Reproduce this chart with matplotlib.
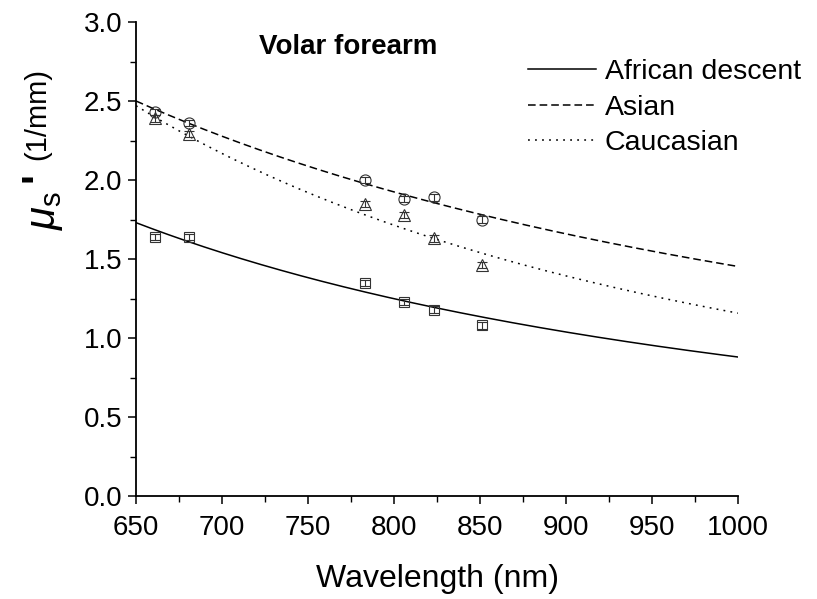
import numpy as np
import matplotlib
matplotlib.use("Agg")
import matplotlib.pyplot as plt
from matplotlib.ticker import MultipleLocator

plt.rcParams['font.family'] = ['Liberation Sans', 'DejaVu Sans']
plt.rcParams['mathtext.fontset'] = 'custom'
plt.rcParams['mathtext.rm'] = 'Liberation Sans'
plt.rcParams['mathtext.it'] = 'Liberation Sans:italic'

# measured wavelengths (nm)
wavelengths = [661, 681, 783, 806, 823, 851]

# reduced scattering coefficient (1/mm)
african = [1.64, 1.64, 1.35, 1.23, 1.18, 1.08]
asian = [2.43, 2.36, 2.00, 1.88, 1.89, 1.75]
caucasian = [2.39, 2.29, 1.85, 1.78, 1.63, 1.46]
err = [0.02, 0.02, 0.02, 0.02, 0.02, 0.02]

# power law fits: mu_s' = amp * (wl / 650) ** (-power)
fit_amp = {"African descent": 1.73, "Asian": 2.50, "Caucasian": 2.47}
fit_power = {"African descent": 1.57, "Asian": 1.26, "Caucasian": 1.76}

fig = plt.figure(figsize=(8.17, 5.99), dpi=100)
ax = fig.add_axes([136 / 817, 103 / 599, 602 / 817, 474 / 599])

wl = np.linspace(650, 1000, 300)
styles = {
    "African descent": dict(ls='-'),
    "Asian": dict(ls=(0, (5, 2.6))),
    "Caucasian": dict(ls=(0, (1.2, 3.4))),
}
for name in ["African descent", "Asian", "Caucasian"]:
    y = fit_amp[name] * (wl / 650) ** (-fit_power[name])
    ax.plot(wl, y, color='black', lw=1.1, label=name, **styles[name])

marker_kw = dict(ls='none', mfc='none', mec='#333333', mew=0.8,
                 ecolor='#333333', elinewidth=0.8, capsize=3.5,
                 capthick=0.8)
ax.errorbar(wavelengths, asian, yerr=err, marker='o', ms=8, **marker_kw)
ax.errorbar(wavelengths, caucasian, yerr=err, marker='^', ms=8.5, **marker_kw)
ax.errorbar(wavelengths, african, yerr=err, marker='s', ms=6.5, **marker_kw)

ax.set_xlim(650, 1000)
ax.set_ylim(0, 3.0)
ax.xaxis.set_major_locator(MultipleLocator(50))
ax.xaxis.set_minor_locator(MultipleLocator(25))
ax.yaxis.set_major_locator(MultipleLocator(0.5))
ax.yaxis.set_minor_locator(MultipleLocator(0.25))
ax.yaxis.set_major_formatter(plt.FormatStrFormatter('%.1f'))

for side in ['top', 'right']:
    ax.spines[side].set_visible(False)
for side in ['left', 'bottom']:
    ax.spines[side].set_linewidth(1.3)
ax.tick_params(which='major', direction='out', length=6, width=1.1,
               labelsize=20)
ax.tick_params(axis='x', which='major', pad=8)
ax.tick_params(axis='y', which='major', pad=4)
ax.tick_params(which='minor', direction='out', length=4, width=1.0)

ax.set_xlabel('Wavelength (nm)', fontsize=23, labelpad=16)

# y label built from pieces: big symbol, prime and smaller unit
fig.text(45 / 817, 1 - 230 / 599, r"$\mu_\mathrm{s}$", rotation=90,
         fontsize=30, ha='center', va='bottom')
fig.text(39 / 817, 1 - 182 / 599, "'", rotation=90, fontsize=30,
         fontweight='bold', ha='center', va='bottom')
fig.text(37 / 817, 1 - 160 / 599, "(1/mm)", rotation=90, fontsize=21,
         ha='center', va='bottom')

ax.text((259 - 136) / 602, (496 - 47) / 474, 'Volar forearm',
        transform=ax.transAxes, fontsize=20, fontweight='bold',
        ha='left', va='center')

ax.legend(loc='upper left', bbox_to_anchor=(528 / 817, 1 - 59 / 599),
          bbox_transform=fig.transFigure, frameon=False, fontsize=20.5,
          handlelength=2.4, handletextpad=0.3, labelspacing=0.34,
          borderpad=0, borderaxespad=0)

fig.savefig('out.png', dpi=100)
